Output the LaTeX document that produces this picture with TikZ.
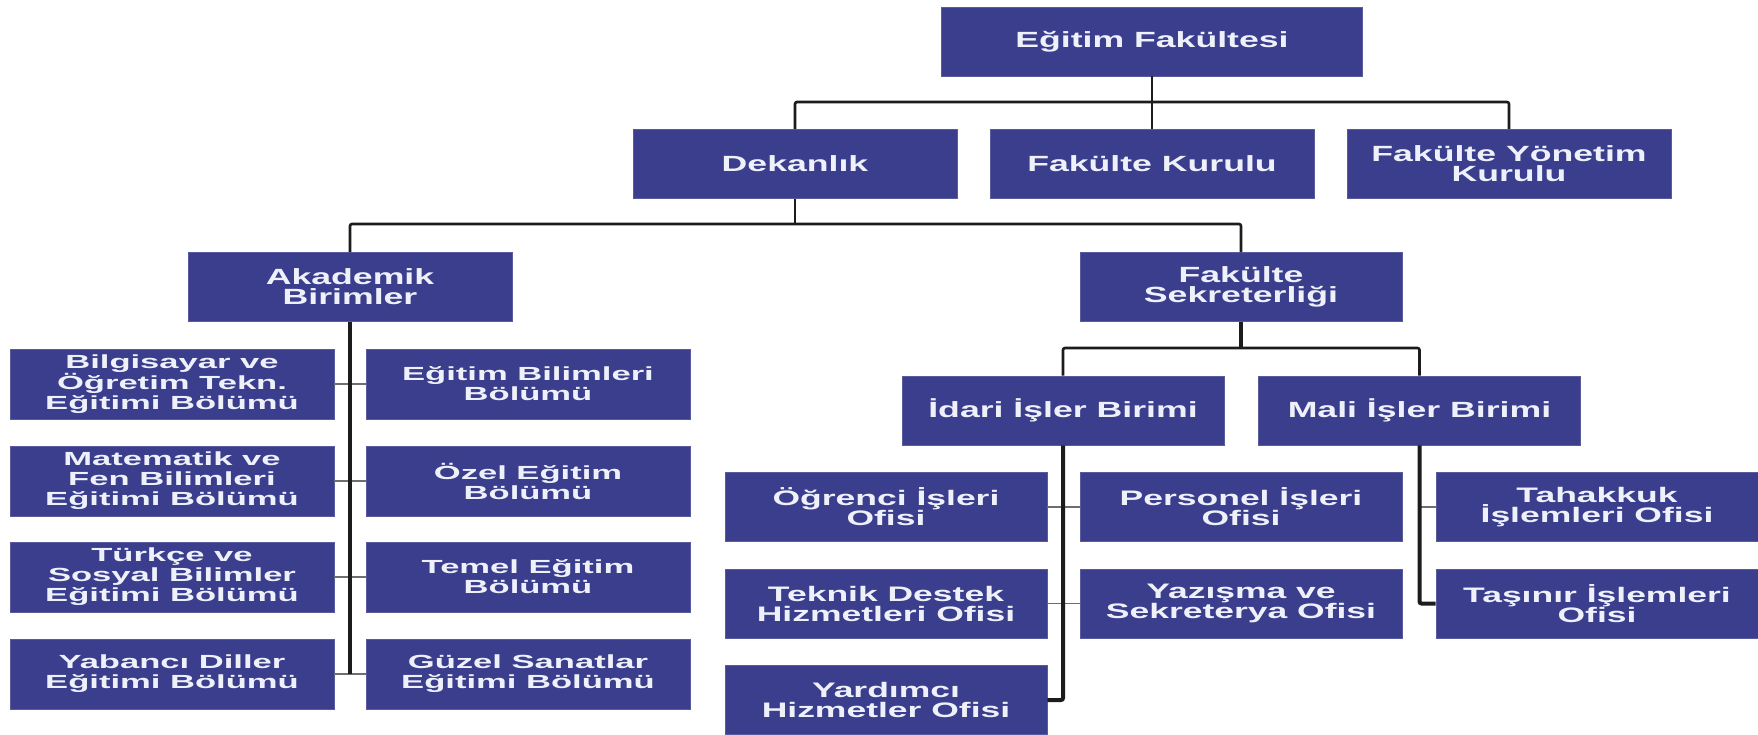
\documentclass[tikz,border=0pt]{standalone}
\usepackage{fontspec}
\setmainfont{Liberation Sans}
% wide bold faces for the box labels
\newfontfamily\wideL[FakeStretch=1.62]{Liberation Sans}
\newfontfamily\wideM[FakeStretch=1.69]{Liberation Sans}
\newfontfamily\wideS[FakeStretch=1.82]{Liberation Sans}
\definecolor{boxblue}{RGB}{58,62,140}
\definecolor{boxtext}{RGB}{238,240,250}
\definecolor{wire}{RGB}{28,28,28}
\definecolor{stubgray}{RGB}{110,110,110}

\begin{document}
\begin{tikzpicture}[x=1pt,y=-1pt,
  unit/.style={fill=boxblue, draw=boxblue!85!white, line width=0.8pt,
    text=boxtext, align=center, inner sep=0pt,
    minimum width=322pt, minimum height=69pt},
  lvl/.style={unit, font=\wideL\bfseries\fontsize{22}{20}\selectfont},
  office/.style={unit, font=\wideM\bfseries\fontsize{21}{20}\selectfont},
  dept/.style={unit, minimum width=324pt, minimum height=70pt,
    font=\wideS\bfseries\fontsize{19}{20}\selectfont},
  bus/.style={draw=wire, line width=2.6pt, rounded corners=2pt},
  trunk/.style={draw=wire, line width=4pt, rounded corners=2pt},
  stub/.style={draw=stubgray, line width=1.5pt}]

\useasboundingbox[fill=white] (0,0) rectangle (1758,734);

% top of the chart
\node[lvl, minimum width=421pt] (ef) at (1152,41.5) {Eğitim Fakültesi};
\node[lvl, minimum width=324pt] (dek) at (795,164) {Dekanlık};
\node[lvl, minimum width=324pt] (fk) at (1152,164) {Fakülte Kurulu};
\node[lvl, minimum width=324pt] (fyk) at (1509,164) {Fakülte Yönetim\\Kurulu};

\node[lvl, minimum width=324pt] (ak) at (350,287) {Akademik\\Birimler};
\node[lvl, minimum width=322pt] (fs) at (1241,287) {Fakülte\\Sekreterliği};

% academic departments
\node[dept] (l1) at (172,384) {Bilgisayar ve\\Öğretim Tekn.\\Eğitimi Bölümü};
\node[dept] (r1) at (528,384) {Eğitim Bilimleri\\Bölümü};
\node[dept] (l2) at (172,481) {Matematik ve\\Fen Bilimleri\\Eğitimi Bölümü};
\node[dept] (r2) at (528,481) {Özel Eğitim\\Bölümü};
\node[dept] (l3) at (172,577) {Türkçe ve\\Sosyal Bilimler\\Eğitimi Bölümü};
\node[dept] (r3) at (528,577) {Temel Eğitim\\Bölümü};
\node[dept] (l4) at (172,674) {Yabancı Diller\\Eğitimi Bölümü};
\node[dept] (r4) at (528,674) {Güzel Sanatlar\\Eğitimi Bölümü};

% secretariat units
\node[lvl] (idari) at (1063,410.5) {İdari İşler Birimi};
\node[lvl] (mali) at (1419.5,410.5) {Mali İşler Birimi};

\node[office] (ogr) at (886,507) {Öğrenci İşleri\\Ofisi};
\node[office] (pers) at (1241,507) {Personel İşleri\\Ofisi};
\node[office] (tek) at (886,603.5) {Teknik Destek\\Hizmetleri Ofisi};
\node[office] (yaz) at (1241,603.5) {Yazışma ve\\Sekreterya Ofisi};
\node[office] (yard) at (886,700) {Yardımcı\\Hizmetler Ofisi};
\node[office] (tah) at (1597,507) {Tahakkuk\\İşlemleri Ofisi};
\node[office] (tas) at (1597,603.5) {Taşınır İşlemleri\\Ofisi};

% bus levels
\coordinate (b1) at (0,102);
\coordinate (b2) at (0,224);
\coordinate (b3) at (0,348);

% faculty level
\draw[bus] (ef.south) -- (fk.north);
\draw[bus] (dek.north) -- (dek.north |- b1) -- (fyk.north |- b1) -- (fyk.north);

% dean's office
\draw[bus] (dek.south) -- (dek.south |- b2);
\draw[bus] (ak.north) -- (ak.north |- b2) -- (fs.north |- b2) -- (fs.north);

% academic units
\foreach \i in {1,2,3,4} \draw[stub] (l\i.east) -- (r\i.west);
\draw[trunk] (ak.south) -- (ak.south |- l4.east);

% secretariat
\draw[trunk] (fs.south) -- (fs.south |- b3);
\draw[bus] (idari.north) -- (idari.north |- b3) -- (mali.north |- b3) -- (mali.north);

\draw[stub] (ogr.east) -- (pers.west);
\draw[stub] (tek.east) -- (yaz.west);
\draw[trunk] (idari.south) |- (yard.east);

\draw[stub] (mali.south |- tah.west) -- (tah.west);
\draw[trunk] (mali.south) |- (tas.west);
\end{tikzpicture}
\end{document}
